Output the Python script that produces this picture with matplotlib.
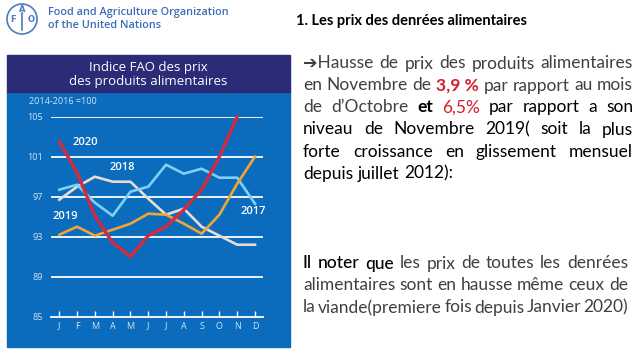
import numpy as np
import matplotlib.pyplot as plt
from matplotlib.patches import Rectangle, Circle

W, H = 638, 359

months = ['J', 'F', 'M', 'A', 'M', 'J', 'J', 'A', 'S', 'O', 'N', 'D']
y2017 = [97.7, 98.2, 96.4, 95.1, 97.5, 98.0, 100.2, 99.3, 99.8, 98.9, 98.9, 96.3]
y2018 = [96.7, 98.0, 99.0, 98.5, 98.5, 96.8, 95.2, 95.8, 94.0, 93.1, 92.2, 92.2]
y2019 = [93.2, 94.0, 93.1, 93.7, 94.3, 95.3, 95.2, 94.3, 93.3, 95.2, 98.3, 101.0]
y2020 = [102.5, 99.4, 95.1, 92.4, 91.0, 93.1, 94.0, 95.7, 97.7, 101.0, 105.0]
yticks = [85, 89, 93, 97, 101, 105]


def fx(x):
    return x / W


def fy(y):
    return 1 - y / H


fig = plt.figure(figsize=(W / 100, H / 100), dpi=100, facecolor='white')
FONT = ['Lato', 'DejaVu Sans']

# --- panel du graphique ---
fig.add_artist(Rectangle((fx(7), fy(347)), 283 / W, 255 / H, color='#0b6cbd',
                         transform=fig.transFigure, zorder=-5))
fig.add_artist(Rectangle((fx(7), fy(92)), 283 / W, 37 / H, color='#2b2b78',
                         transform=fig.transFigure, zorder=-4))
fig.text(fx(148), fy(67), 'Indice FAO des prix', ha='center', va='center',
         color='white', fontsize=9.5, family='Open Sans')
fig.text(fx(148), fy(82), 'des produits alimentaires', ha='center', va='center',
         color='white', fontsize=9.5, family='Open Sans')
fig.text(fx(29), fy(101), '2014-2016 =100', va='center', color='#d6e5f5',
         fontsize=6.5, family='Open Sans')

ax = fig.add_axes([fx(51.3), fy(316.7), (263 - 51.3) / W, 200 / H])
ax.patch.set_visible(False)
ax.set_xlim(-0.45, 11.45)
ax.set_ylim(85, 105)
for s in ['top', 'right', 'left']:
    ax.spines[s].set_visible(False)
ax.spines['bottom'].set_color('white')
ax.spines['bottom'].set_linewidth(1.3)
for v in yticks[1:]:
    ax.axhline(v, color='white', lw=1.3, zorder=1)

x = np.arange(12)
ax.set_xticks(x)
ax.set_xticklabels(months, family='Open Sans')
ax.set_yticks(yticks)
ax.set_yticklabels([str(v) for v in yticks], family='Open Sans')
ax.tick_params(axis='x', direction='in', length=4, width=1, color='white',
               labelcolor='#d3e5f5', labelsize=6.5, pad=3.5)
ax.tick_params(axis='y', length=0, labelcolor='#d3e5f5', labelsize=6.5, pad=6)

ax.plot(x, y2018, color='#e8dcd4', lw=1.9, zorder=3, clip_on=False)
ax.plot(x, y2017, color='#80d0f6', lw=1.9, zorder=4, clip_on=False)
ax.plot(x, y2019, color='#f0a535', lw=1.9, zorder=5, clip_on=False)
ax.plot(x[:len(y2020)], y2020, color='#d22a3e', lw=2.4, zorder=6, clip_on=False)

for lab, xi, yi in [('2020', 1.44, 102.4), ('2018', 3.52, 99.9),
                    ('2019', 0.32, 95.0), ('2017', 10.9, 95.5)]:
    ax.text(xi, yi, lab, color='white', fontsize=8, ha='center', va='center',
            weight='semibold', family='Open Sans')

# --- logo FAO ---
fig.add_artist(Circle((22 / 100, (H - 19) / 100), 0.15, fill=False, ec='#4a7bc0',
                      lw=1.2, transform=fig.dpi_scale_trans))
for ch, px, py in [('F', 13, 19), ('A', 22, 9), ('O', 31, 19)]:
    fig.text(fx(px), fy(py), ch, ha='center', va='center', color='#4a7bc0',
             fontsize=6, weight='bold')
fig.add_artist(plt.Line2D([fx(22), fx(22)], [fy(13), fy(30)], color='#4a7bc0',
                          lw=1.2, transform=fig.transFigure))
fig.text(fx(48), fy(12.5), 'Food and Agriculture Organization', va='center',
         color='#3b6db7', fontsize=7.8, family='Open Sans', weight='semibold')
fig.text(fx(48), fy(25.5), 'of the United Nations', va='center',
         color='#3b6db7', fontsize=7.8, family='Open Sans', weight='semibold')

# --- texte de droite ---
fig.text(fx(296), fy(21), '1. Les prix des denrées alimentaires', va='center',
         color='black', fontsize=10.5, weight='bold', family=FONT)

G, K, R = '#404040', '#000000', '#d0202a'
para1 = [
    [('➔Hausse', G, 'normal'), ('de', G, 'normal'), ('prix', G, 'normal'),
     ('des', G, 'normal'), ('produits', G, 'normal'), ('alimentaires', G, 'normal')],
    [('en', G, 'normal'), ('Novembre', G, 'normal'), ('de', G, 'normal'),
     ('3,9 %', R, 'bold'), ('par', G, 'normal'), ('rapport', G, 'normal'),
     ('au', G, 'normal'), ('mois', G, 'normal')],
    [('de', G, 'normal'), ('d’Octobre', G, 'normal'), ('et', K, 'bold'),
     ('6,5%', R, 'normal'), ('par', K, 'normal'), ('rapport', K, 'normal'),
     ('a', K, 'normal'), ('son', K, 'normal')],
    [('niveau', K, 'normal'), ('de', K, 'normal'), ('Novembre', K, 'normal'),
     ('2019(', K, 'normal'), ('soit', K, 'normal'), ('la', K, 'normal'),
     ('plus', K, 'normal')],
    [('forte', K, 'normal'), ('croissance', K, 'normal'), ('en', K, 'normal'),
     ('glissement', K, 'normal'), ('mensuel', K, 'normal')],
    [('depuis', K, 'normal'), ('juillet', K, 'normal'), ('2012):', K, 'normal')],
]
para2 = [
    [('Il', K, 'medium'), ('noter', K, 'medium'), ('que', K, 'medium'),
     ('les', G, 'normal'), ('prix', G, 'normal'), ('de', G, 'normal'),
     ('toutes', G, 'normal'), ('les', G, 'normal'), ('denrées', G, 'normal')],
    [('alimentaires', G, 'normal'), ('sont', G, 'normal'), ('en', G, 'normal'),
     ('hausse', G, 'normal'), ('même', G, 'normal'), ('ceux', G, 'normal'),
     ('de', G, 'normal')],
    [('la', G, 'normal'), ('viande(premiere', G, 'normal'), ('fois', G, 'normal'),
     ('depuis', G, 'normal'), ('Janvier', G, 'normal'), ('2020)', G, 'normal')],
]

SIZE = 12.5
rend = fig.canvas.get_renderer()


def justify(lines, y0, dy, x0, x1, ragged_last):
    sp = fig.text(0, 0, 'a a', fontsize=SIZE, family=FONT)
    nsp = fig.text(0, 0, 'aa', fontsize=SIZE, family=FONT)
    space = sp.get_window_extent(rend).width - nsp.get_window_extent(rend).width
    sp.remove()
    nsp.remove()
    for i, words in enumerate(lines):
        y = y0 + i * dy
        arts = [fig.text(0, fy(y), w, color=c, weight=wt, fontsize=SIZE,
                         family=FONT, va='center') for w, c, wt in words]
        widths = [t.get_window_extent(rend).width for t in arts]
        if ragged_last and i == len(lines) - 1:
            gap = space
        else:
            gap = (x1 - x0 - sum(widths)) / (len(arts) - 1)
        xx = x0
        for t, wd in zip(arts, widths):
            t.set_x(fx(xx))
            xx += wd + gap


justify(para1, 63.5, 22, 303, 633, True)
justify(para2, 263.5, 22, 303, 628, False)

fig.savefig('out.png', dpi=100)
